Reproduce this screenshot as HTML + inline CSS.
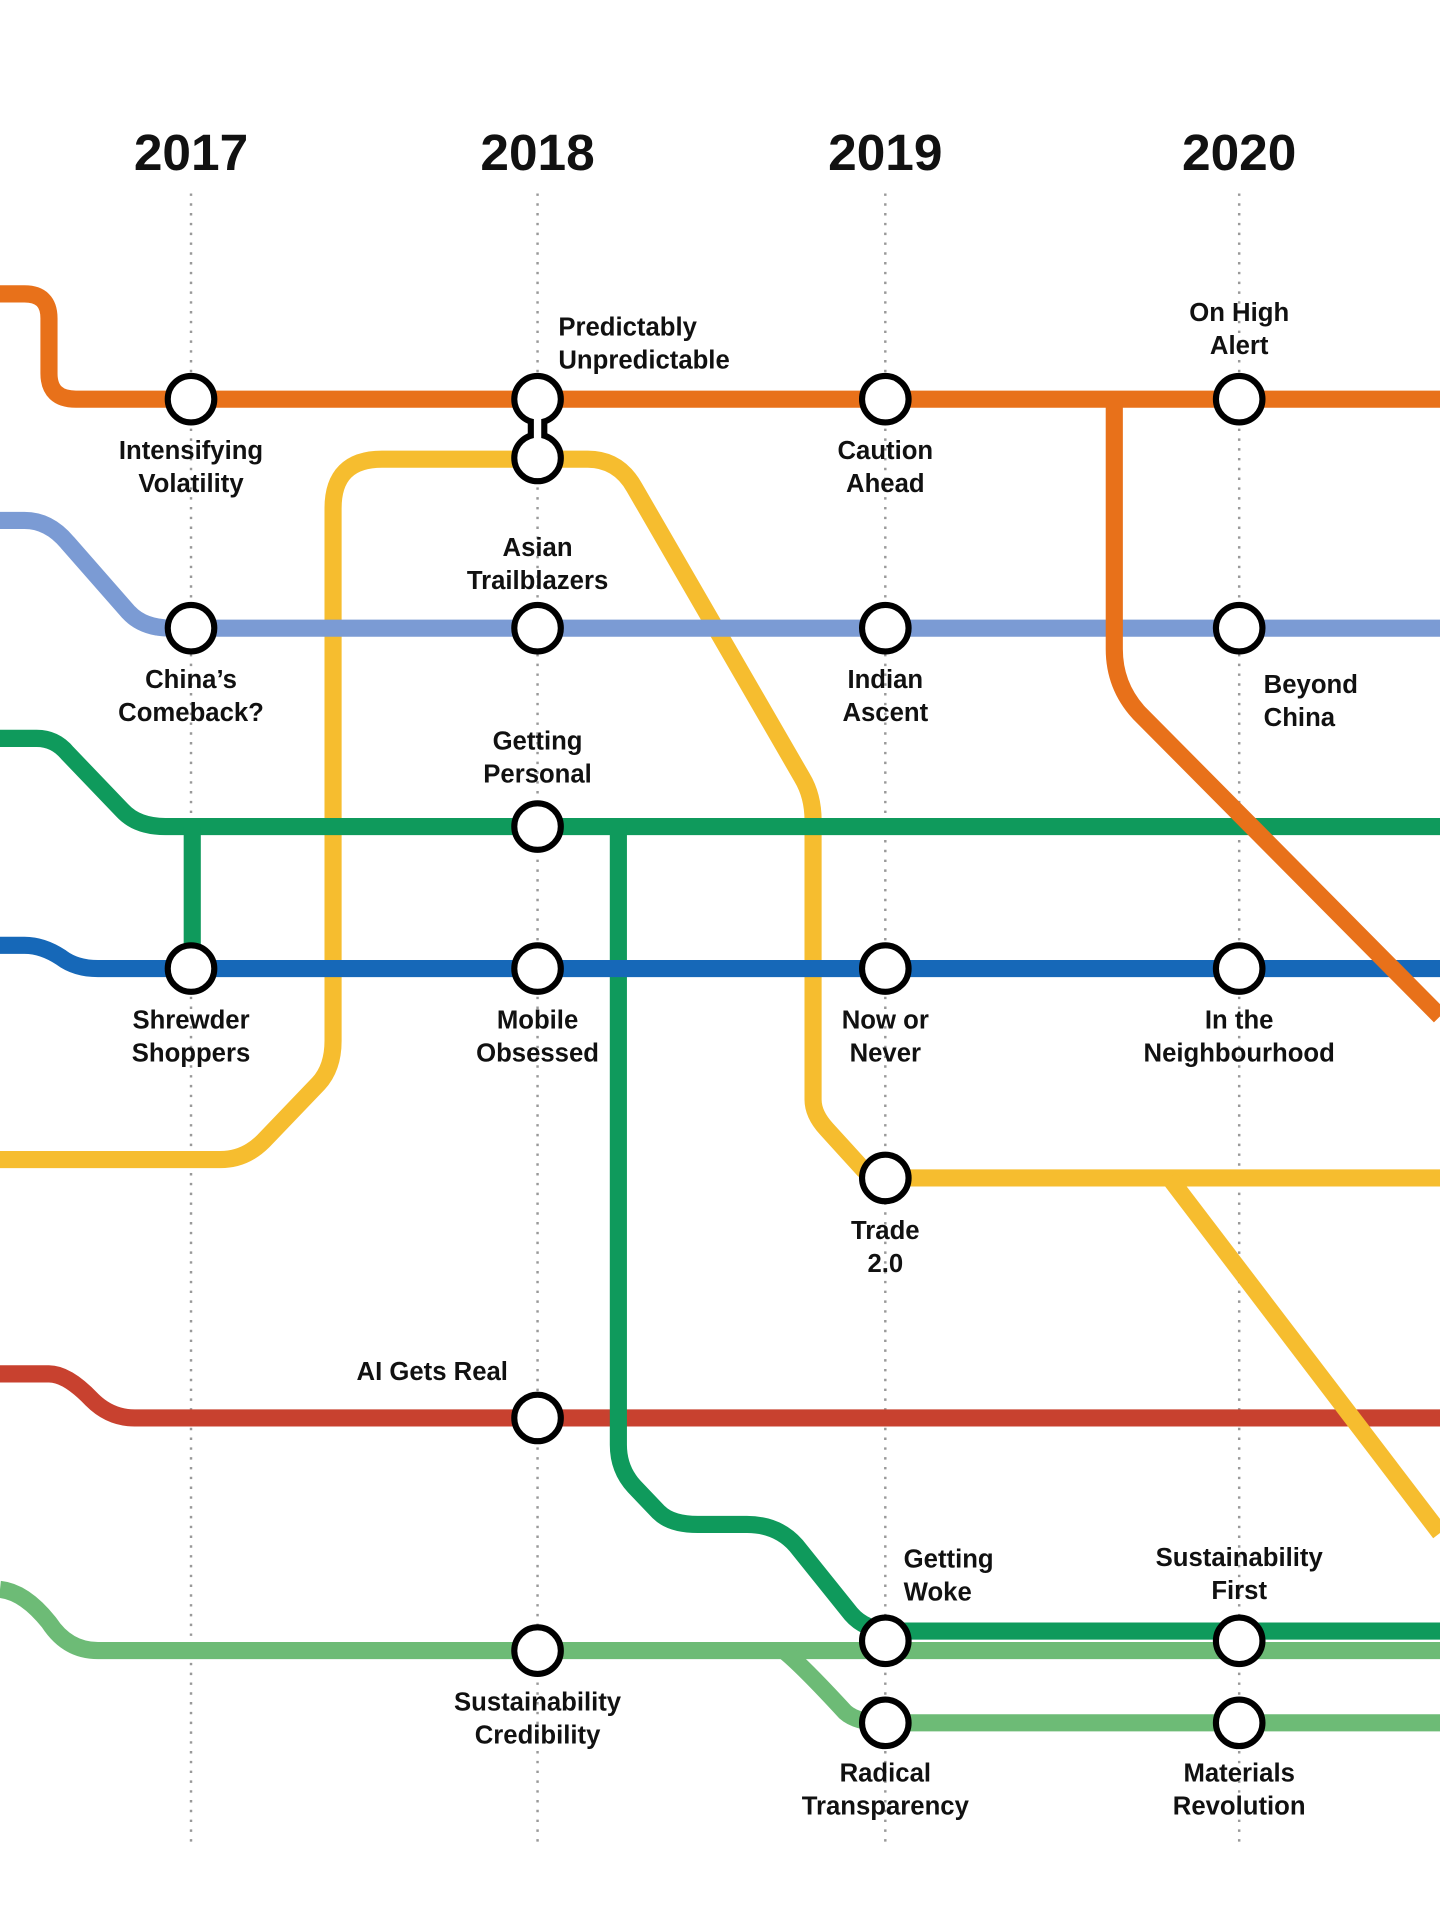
<!DOCTYPE html>
<html><head><meta charset="utf-8"><style>
html,body{margin:0;padding:0;background:#fff;}
svg{display:block;}
text{font-family:"Liberation Sans",sans-serif;font-weight:bold;fill:#111;}
.yr{font-size:42px;text-anchor:middle;}
.lb{font-size:21px;text-anchor:middle;}
.l{fill:none;stroke-width:14;stroke-linejoin:round;}
.st{fill:#fff;stroke:#000;stroke-width:5;}
.d{stroke:#999;stroke-width:2;stroke-dasharray:2 6;}
</style></head><body>
<svg width="1440" height="1920" viewBox="0 0 1176 1568" xmlns="http://www.w3.org/2000/svg">
<rect width="1176" height="1568" fill="#fff"/>
<text class="yr" x="156" y="139">2017</text>
<text class="yr" x="439" y="139">2018</text>
<text class="yr" x="723" y="139">2019</text>
<text class="yr" x="1012" y="139">2020</text>
<g class="d">
<line x1="156" y1="158" x2="156" y2="1510"/>
<line x1="439" y1="158" x2="439" y2="1510"/>
<line x1="723" y1="158" x2="723" y2="1510"/>
<line x1="1012" y1="158" x2="1012" y2="1510"/>
</g>
<!-- lines -->
<path class="l" stroke="#6dbb76" d="M0,1298 Q20,1300 40,1325 Q55,1348 80,1348 H1176"/>
<path class="l" stroke="#6dbb76" d="M640,1348 Q655,1360 690,1398 Q700,1407 723,1407 H1176"/>
<path class="l" stroke="#c8412f" d="M0,1122 H40 Q55,1122 75,1143 Q90,1158 110,1158 H1176"/>
<path class="l" stroke="#f6bd2f" d="M0,947 H180 Q200,947 215,932 L260,885 Q272,872 272,850 V415 Q272,375 312,375 H480 Q505,375 518,398 L655,635 Q664,650 664,670 V898 Q664,910 675,922 L705,955 Q712,962 730,962 H1176"/>
<path class="l" stroke="#f6bd2f" d="M955,962 L1176,1252"/>
<path class="l" stroke="#0f9a5c" d="M0,603 H30 Q45,603 55,615 L100,662 Q112,675 135,675 H1176"/>
<path class="l" stroke="#0f9a5c" d="M157,675 V790"/>
<path class="l" stroke="#0f9a5c" d="M505,675 V1180 Q505,1200 518,1214 L538,1235 Q548,1245 570,1245 H610 Q635,1245 650,1262 L695,1318 Q707,1332 730,1332 H1176"/>
<path class="l" stroke="#1668b8" d="M0,772 H20 Q35,772 50,782 Q62,791 80,791 H1176"/>
<path class="l" stroke="#7b9bd4" d="M0,425 H20 Q40,425 55,443 L105,500 Q117,513 140,513 H1176"/>
<path class="l" stroke="#e8711a" d="M0,240 H20 Q40,240 40,260 V305 Q40,326 62,326 H1176"/>
<path class="l" stroke="#e8711a" d="M910,326 V530 Q910,560 930,582 L1176,830"/>
<!-- stations -->
<rect x="431" y="335" width="16" height="30" fill="#000"/>
<g class="st">
<circle cx="156" cy="326" r="19"/><circle cx="439" cy="326" r="19"/><circle cx="439" cy="374" r="19"/>
<circle cx="723" cy="326" r="19"/><circle cx="1012" cy="326" r="19"/>
<circle cx="156" cy="513" r="19"/><circle cx="439" cy="513" r="19"/><circle cx="723" cy="513" r="19"/><circle cx="1012" cy="513" r="19"/>
<circle cx="439" cy="675" r="19"/>
<circle cx="156" cy="791" r="19"/><circle cx="439" cy="791" r="19"/><circle cx="723" cy="791" r="19"/><circle cx="1012" cy="791" r="19"/>
<circle cx="723" cy="962" r="19"/>
<circle cx="439" cy="1158" r="19"/>
<circle cx="439" cy="1348" r="19"/>
<circle cx="723" cy="1340" r="19"/><circle cx="1012" cy="1340" r="19"/>
<circle cx="723" cy="1407" r="19"/><circle cx="1012" cy="1407" r="19"/>
</g>
<rect x="436" y="338" width="6" height="24" fill="#fff"/>
<!-- labels -->
<text class="lb" x="156" y="375">Intensifying</text><text class="lb" x="156" y="402">Volatility</text>
<text class="lb" x="456" y="274" style="text-anchor:start">Predictably</text><text class="lb" x="456" y="301" style="text-anchor:start">Unpredictable</text>
<text class="lb" x="723" y="375">Caution</text><text class="lb" x="723" y="402">Ahead</text>
<text class="lb" x="1012" y="262">On High</text><text class="lb" x="1012" y="289">Alert</text>
<text class="lb" x="439" y="454">Asian</text><text class="lb" x="439" y="481">Trailblazers</text>
<text class="lb" x="156" y="562">China’s</text><text class="lb" x="156" y="589">Comeback?</text>
<text class="lb" x="723" y="562">Indian</text><text class="lb" x="723" y="589">Ascent</text>
<text class="lb" x="1032" y="566" style="text-anchor:start">Beyond</text><text class="lb" x="1032" y="593" style="text-anchor:start">China</text>
<text class="lb" x="439" y="612">Getting</text><text class="lb" x="439" y="639">Personal</text>
<text class="lb" x="156" y="840">Shrewder</text><text class="lb" x="156" y="867">Shoppers</text>
<text class="lb" x="439" y="840">Mobile</text><text class="lb" x="439" y="867">Obsessed</text>
<text class="lb" x="723" y="840">Now or</text><text class="lb" x="723" y="867">Never</text>
<text class="lb" x="1012" y="840">In the</text><text class="lb" x="1012" y="867">Neighbourhood</text>
<text class="lb" x="723" y="1012">Trade</text><text class="lb" x="723" y="1039">2.0</text>
<text class="lb" x="353" y="1127">AI Gets Real</text>
<text class="lb" x="738" y="1280" style="text-anchor:start">Getting</text><text class="lb" x="738" y="1307" style="text-anchor:start">Woke</text>
<text class="lb" x="1012" y="1279">Sustainability</text><text class="lb" x="1012" y="1306">First</text>
<text class="lb" x="439" y="1397">Sustainability</text><text class="lb" x="439" y="1424">Credibility</text>
<text class="lb" x="723" y="1455">Radical</text><text class="lb" x="723" y="1482">Transparency</text>
<text class="lb" x="1012" y="1455">Materials</text><text class="lb" x="1012" y="1482">Revolution</text>
</svg>
</body></html>
